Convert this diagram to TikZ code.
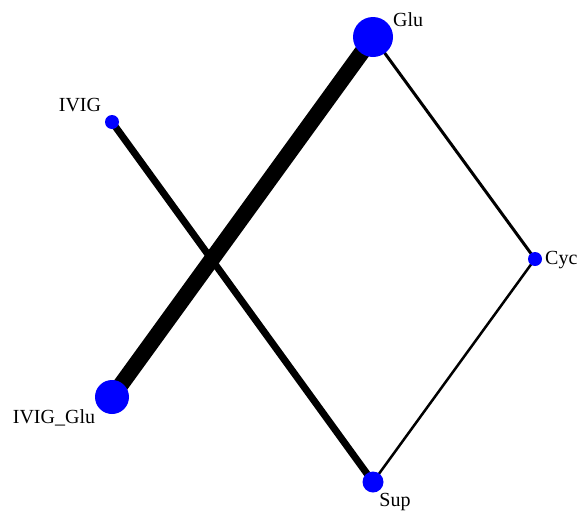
\documentclass[tikz,border=0pt]{standalone}
\usepackage{fontspec}
\setmainfont{Liberation Serif}
\usetikzlibrary{backgrounds}
\begin{document}
\begin{tikzpicture}[x=1pt,y=-1pt,
  vert/.style={circle,fill=blue,inner sep=0pt,minimum size=#1},
  lab/.style={font=\fontsize{20}{22}\selectfont,inner sep=0pt},
  edge/.style={line width=#1,black}]
\useasboundingbox (0,0) rectangle (579,512);
\node[vert=40pt] (glu) at (373,37) {};
\node[vert=14pt] (ivig) at (112,122) {};
\node[vert=14pt] (cyc) at (535,259) {};
\node[vert=34pt] (ivigglu) at (112,397) {};
\node[vert=21pt] (sup) at (373,482) {};
\begin{scope}[on background layer]
\draw[edge=16pt] (glu.center) -- (ivigglu.center);
\draw[edge=7pt] (ivig.center) -- (sup.center);
\draw[edge=3pt] (glu.center) -- (cyc.center);
\draw[edge=2.5pt] (cyc.center) -- (sup.center);
\end{scope}
\node[lab,anchor=west] (lglu) at (393,20) {Glu};
\node[lab] (livig) at (80,105) {IVIG};
\node[lab,anchor=west] (lcyc) at (545,260) {Cyc};
\node[lab] (livigglu) at (54,418) {IVIG\_Glu};
\node[lab] (lsup) at (395,502) {Sup};
\end{tikzpicture}
\end{document}
